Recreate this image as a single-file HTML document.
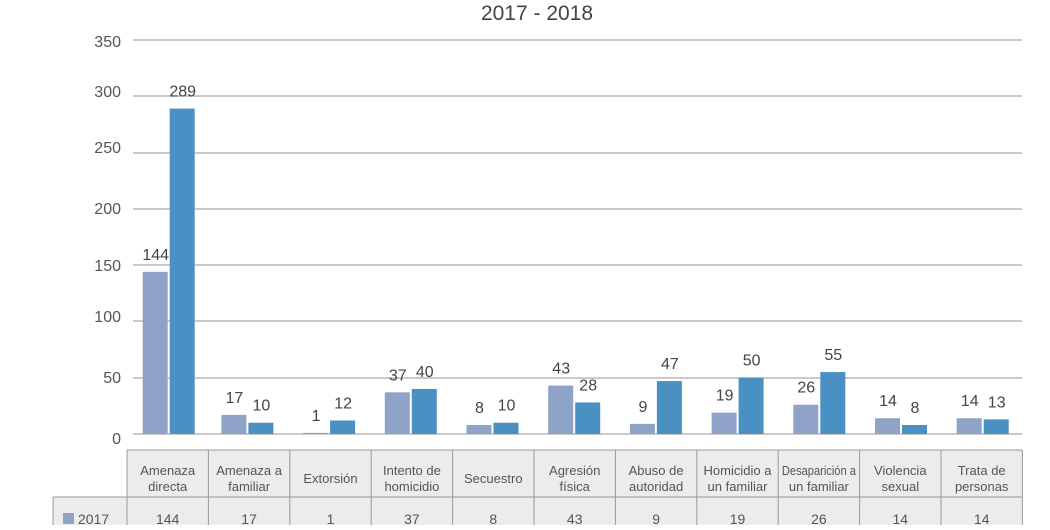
<!DOCTYPE html>
<html><head><meta charset="utf-8"><style>
body{margin:0;background:#fff;width:1050px;height:525px;overflow:hidden;font-family:"Liberation Sans",sans-serif;}
</style></head><body>
<svg width="1050" height="525" xmlns="http://www.w3.org/2000/svg" font-family="Liberation Sans, sans-serif">
<text x="537" y="20" text-anchor="middle" font-size="21" fill="#444">2017 - 2018</text>
<g stroke="#aaa" stroke-width="1.2">
<line x1="133" x2="1022" y1="40" y2="40"/><line x1="133" x2="1022" y1="96" y2="96"/>
<line x1="133" x2="1022" y1="153" y2="153"/><line x1="133" x2="1022" y1="209" y2="209"/>
<line x1="133" x2="1022" y1="265" y2="265"/><line x1="133" x2="1022" y1="321" y2="321"/>
<line x1="133" x2="1022" y1="378" y2="378"/><line x1="133" x2="1022" y1="434" y2="434"/>
</g>
<g font-size="16" fill="#555" text-anchor="end">
<text x="121" y="47">350</text><text x="121" y="97">300</text><text x="121" y="153">250</text>
<text x="121" y="214">200</text><text x="121" y="271">150</text><text x="121" y="322">100</text>
<text x="121" y="383">50</text><text x="121" y="444">0</text>
</g>
<g id="bars" font-size="16" fill="#444" text-anchor="middle"></g>
<rect x="127" y="450" width="895" height="80" fill="#ececec"/>
<rect x="53" y="497" width="74" height="33" fill="#ececec"/>
<g stroke="#999" stroke-width="1" fill="none" id="grid"></g>
<g id="tbl" font-size="13" fill="#555" text-anchor="middle"></g>
<rect x="63" y="513" width="11" height="11" fill="#8fa3c8"/>
<text x="78" y="524" font-size="14" fill="#555">2017</text>
</svg>
<script>
const cats=[["Amenaza","directa"],["Amenaza a","familiar"],["Extorsión"],["Intento de","homicidio"],["Secuestro"],["Agresión","física"],["Abuso de","autoridad"],["Homicidio a","un familiar"],["Desaparición a","un familiar"],["Violencia","sexual"],["Trata de","personas"]];
const a=[144,17,1,37,8,43,9,19,26,14,14],b=[289,10,12,40,10,28,47,50,55,8,13];
const ns="http://www.w3.org/2000/svg";
function el(p,t,at,txt){const e=document.createElementNS(ns,t);for(const k in at)e.setAttribute(k,at[k]);if(txt!=null)e.textContent=txt;document.getElementById(p).appendChild(e);}
const x0=127,w=81.4;
for(let i=0;i<11;i++){const c=x0+w*i+w/2;const bc=(i==0?c:c-3+i*0.3);
const ha=a[i]*1.126,hb=b[i]*1.126;
el("bars","rect",{x:bc-25,y:434-ha,width:25,height:ha,fill:"#8fa3c8"});
el("bars","rect",{x:bc+2,y:434-hb,width:25,height:hb,fill:"#4a90c2"});
el("bars","text",{x:bc-12,y:434-ha-12},a[i]);
el("bars","text",{x:bc+15,y:434-hb-12},b[i]);
const l=cats[i];
if(l.length==1)el("tbl","text",{x:c,y:483},l[0]);else{el("tbl","text",{x:c,y:475},l[0]);el("tbl","text",{x:c,y:491},l[1]);}
el("tbl","text",{x:c,y:524,"font-size":"14"},a[i]);
}
document.querySelectorAll('#tbl text').forEach(t=>{if(t.getComputedTextLength()>74){t.setAttribute('textLength',74);t.setAttribute('lengthAdjust','spacingAndGlyphs');}});
for(let i=0;i<=11;i++){const x=x0+w*i;el("grid","line",{x1:x,x2:x,y1:450,y2:530});}
el("grid","line",{x1:127,x2:1022,y1:450,y2:450});
el("grid","line",{x1:53,x2:1022,y1:497,y2:497});
el("grid","line",{x1:53,x2:53,y1:497,y2:530});
</script>
</body></html>
